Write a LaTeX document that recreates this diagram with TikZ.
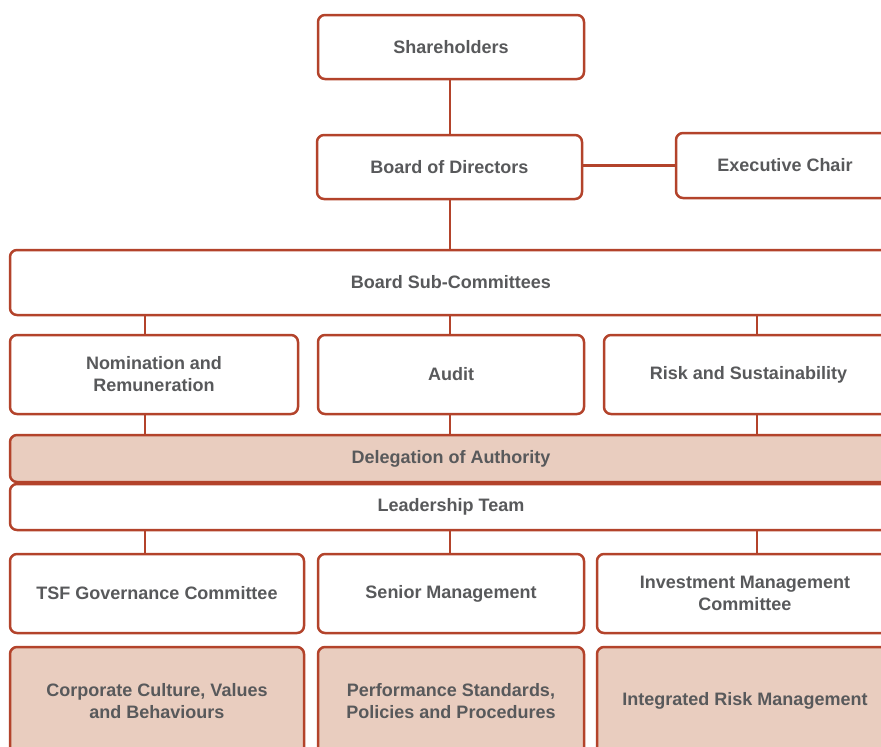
\documentclass[tikz,border=0pt]{standalone}
\usepackage{fontspec}
\setmainfont{Liberation Sans}
\usetikzlibrary{positioning}
\definecolor{rust}{HTML}{B3432B}
\definecolor{blush}{HTML}{E9CDBF}
\definecolor{ink}{HTML}{58595B}
\tikzset{
	unit/.style args = {#1}{draw=rust, line width=2.5pt, rounded corners=7pt, fill=#1,
		text=ink, font=\bfseries\fontsize{18}{22}\selectfont, align=center, inner sep=0pt},
	unit/.default = white,
	link/.style = {draw=rust, line width=2.5pt},
}

\begin{document}
\begin{tikzpicture}[x=1pt, y=-1pt]
				\useasboundingbox (0,0) rectangle (881,747);
				\clip (0,0) rectangle (881,747);
				\node[unit, minimum width=266pt, minimum height=64pt] (share) at (451,47) {Shareholders};
				\node[unit, minimum width=265pt, minimum height=64pt] (board) at (449.5,167) {Board of Directors};
				\node[unit, minimum width=218pt, minimum height=65pt] (chair) at (785,165.5) {Executive Chair};
				\node[unit, minimum width=882pt, minimum height=65pt] (subs) at (451,282.5) {Board Sub-Committees};
				\node[unit, minimum width=288pt, minimum height=79pt] (nomin) at (154,374.5) {Nomination and\\Remuneration};
				\node[unit, minimum width=266pt, minimum height=79pt] (audit) at (451,374.5) {Audit};
				\node[unit, minimum width=289pt, minimum height=79pt] (risk) at (748.5,374.5) {Risk and Sustainability};
				\node[unit=blush, minimum width=882pt, minimum height=47pt] (deleg) at (451,458.5) {Delegation of Authority};
				\node[unit, minimum width=882pt, minimum height=46pt] (lead) at (451,507) {Leadership Team};
				\node[unit, minimum width=294pt, minimum height=79pt] (tsf) at (157,593.5) {TSF Governance Committee};
				\node[unit, minimum width=266pt, minimum height=79pt] (senior) at (451,593.5) {Senior Management};
				\node[unit, minimum width=296pt, minimum height=79pt] (invest) at (745,593.5) {Investment Management\\Committee};
				\node[unit=blush, minimum width=294pt, minimum height=108pt] (culture) at (157,701) {Corporate Culture, Values\\and Behaviours};
				\node[unit=blush, minimum width=266pt, minimum height=108pt] (perform) at (451,701) {Performance Standards,\\Policies and Procedures};
				\node[unit=blush, minimum width=296pt, minimum height=108pt] (integ) at (745,701) {Integrated Risk Management};
				% columns of the tree
				\coordinate (colA) at (145,0);
				\coordinate (colB) at (450,0);
				\coordinate (colC) at (757,0);
				\draw[link] (colB |- share.south) -- (colB |- board.north);
				\draw[link] (colB |- board.south) -- (colB |- subs.north);
				\draw[link] (board.east |- chair.west) -- (chair.west);
				\foreach \c/\n in {colA/nomin, colB/audit, colC/risk} {
					\draw[link] (\c |- subs.south) -- (\c |- \n.north);
					\draw[link] (\c |- \n.south) -- (\c |- deleg.north);
				}
				\foreach \c/\n in {colA/tsf, colB/senior, colC/invest} {
					\draw[link] (\c |- lead.south) -- (\c |- \n.north);
				}
			\end{tikzpicture}
\end{document}
